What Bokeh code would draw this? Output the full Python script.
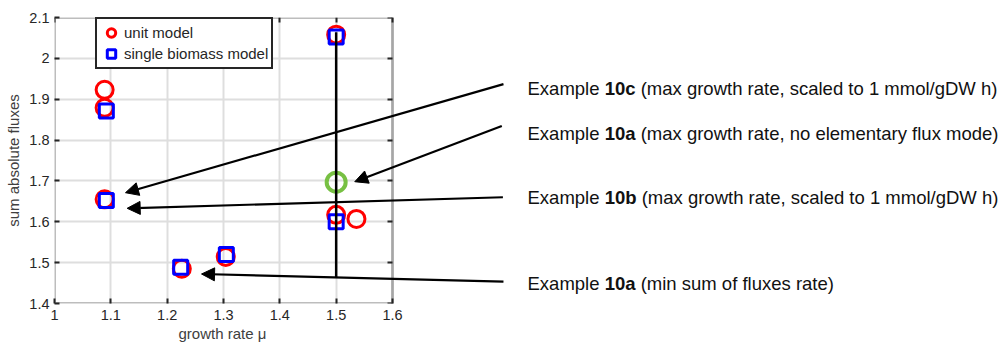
from bokeh.plotting import figure
from bokeh.models import (Range1d, FixedTicker, LinearAxis, Legend, LegendItem,
                          Label, Arrow, NormalHead, BoxAnnotation, Title)
from bokeh.embed import file_html
from bokeh.resources import INLINE

# --- data -------------------------------------------------------------
unit_rate = [1.089, 1.089, 1.089, 1.226, 1.304, 1.500, 1.500, 1.536]
unit_flux = [1.923, 1.879, 1.655, 1.485, 1.514, 2.058, 1.617, 1.607]

single_rate = [1.092, 1.092, 1.224, 1.305, 1.500, 1.500]
single_flux = [1.871, 1.652, 1.489, 1.520, 2.052, 1.600]

efm_rate = [1.500]
efm_flux = [1.697]

# vertical range of solutions at the maximal growth rate
span_rate = [1.500]
span_low = [1.465]
span_high = [2.064]

x_ticks = [1.0, 1.1, 1.2, 1.3, 1.4, 1.5, 1.6]
x_tick_labels = ["1", "1.1", "1.2", "1.3", "1.4", "1.5", "1.6"]
y_ticks = [1.4, 1.5, 1.6, 1.7, 1.8, 1.9, 2.0, 2.1]
y_tick_labels = ["1.4", "1.5", "1.6", "1.7", "1.8", "1.9", "2", "2.1"]

# annotation texts: (plain, bold, rest)
note_plain = ["Example", "Example", "Example", "Example"]
note_bold = ["10c", "10a", "10b", "10a"]
note_rest = ["(max growth rate, scaled to 1 mmol/gDW h)",
             "(max growth rate, no elementary flux mode)",
             "(max growth rate, scaled to 1 mmol/gDW h)",
             "(min sum of fluxes rate)"]
note_y = [1.9267, 1.8166, 1.6600, 1.4495]
# arrows: start next to the text, tip next to the marker
arrow_x0 = [1.797, 1.794, 1.796, 1.797]
arrow_y0 = [1.937, 1.8345, 1.660, 1.4534]
arrow_x1 = [1.126, 1.533, 1.129, 1.261]
arrow_y1 = [1.6712, 1.6981, 1.633, 1.4722]

# --- layout -----------------------------------------------------------
FONT = "Liberation Sans"
DARK = "#262626"
NOTE_SIZE = 18.5

X0, X1 = 1.0, 1.6          # axes box in data units
Y0, Y1 = 1.4, 2.1
BOX_PX = 338               # width of the axes box in pixels
LEFT_PX = 54
FRAME_PX = 1007 - LEFT_PX  # the frame runs to the right edge for the notes
x_end = X0 + (X1 - X0) * FRAME_PX / BOX_PX

p = figure(width=1007, height=347,
           x_range=Range1d(X0, x_end), y_range=Range1d(Y0, Y1),
           output_backend="svg", toolbar_location=None,
           min_border_left=LEFT_PX, min_border_right=0,
           min_border_top=17, min_border_bottom=44,
           y_axis_label="sum absolute fluxes")
p.background_fill_color = "white"
p.border_fill_color = "white"
p.outline_line_color = None

p.xaxis.ticker = FixedTicker(ticks=x_ticks)
p.yaxis.ticker = FixedTicker(ticks=y_ticks)
p.xaxis.bounds = (X0, X1)
p.xaxis.major_label_overrides = dict(zip(x_ticks, x_tick_labels))
p.yaxis.major_label_overrides = dict(zip(y_ticks, y_tick_labels))
p.xgrid.ticker = FixedTicker(ticks=x_ticks)
p.ygrid.ticker = FixedTicker(ticks=y_ticks)
p.xgrid.bounds = (X0, X1)
p.ygrid.cross_bounds = (X0, X1)
p.grid.grid_line_color = "#dedede"
p.grid.grid_line_width = 2

for ax in (p.xaxis[0], p.yaxis[0]):
    ax.axis_line_color = None
    ax.major_tick_in = 5
    ax.major_tick_out = 0
    ax.major_tick_line_color = DARK
    ax.major_tick_line_width = 2
    ax.minor_tick_line_color = None
    ax.major_label_text_font = FONT
    ax.major_label_text_font_size = "14.5px"
    ax.major_label_text_color = DARK
    ax.axis_label_text_font = FONT
    ax.axis_label_text_font_size = "15px"
    ax.axis_label_text_font_style = "normal"
    ax.axis_label_text_color = "#404040"
p.xaxis.major_label_standoff = 6
p.yaxis.major_label_standoff = 5
p.yaxis.axis_label_standoff = 4

# x axis title, centred under the axes box rather than the whole frame
p.add_layout(Title(text="growth rate μ", align="left", offset=124,
                   text_font=FONT, text_font_size="15px",
                   text_font_style="normal", text_color="#404040",
                   standoff=0), "below")

# tick marks on the top and right edges of the box
for side, ticks, loc in (("right", y_ticks, X1), ("above", x_ticks, Y1)):
    ax = LinearAxis(ticker=FixedTicker(ticks=ticks), fixed_location=loc)
    ax.major_label_overrides = {t: "" for t in ticks}
    ax.axis_line_color = None
    ax.major_tick_in = 5
    ax.major_tick_out = 0
    ax.major_tick_line_color = DARK
    ax.major_tick_line_width = 2
    ax.minor_tick_line_color = None
    if side == "above":
        ax.bounds = (X0, X1)
    p.add_layout(ax, side)

# box around the axes
p.add_layout(BoxAnnotation(left=X0, right=X1, bottom=Y0, top=Y1,
                           fill_alpha=0, line_color=DARK, line_width=3))

r_unit = p.scatter(unit_rate, unit_flux, marker="circle", size=17,
                   fill_color=None, line_color="#ff0000", line_width=3)
r_single = p.scatter(single_rate, single_flux, marker="square", size=14,
                     fill_color=None, line_color="#0000ff", line_width=3)
p.scatter(efm_rate, efm_flux, marker="circle", size=19,
          fill_color=None, line_color="#77c043", line_width=4)
p.segment(x0=span_rate, y0=span_low, x1=span_rate, y1=span_high,
          line_color="black", line_width=2.5)

legend = Legend(items=[LegendItem(label="unit model", renderers=[r_unit]),
                       LegendItem(label="single biomass model", renderers=[r_single])],
                location=(41, 234))
legend.border_line_color = DARK
legend.border_line_width = 2.5
legend.border_line_alpha = 1
legend.background_fill_color = "white"
legend.background_fill_alpha = 1
legend.padding = 3
legend.margin = 0
legend.spacing = 0
legend.glyph_width = 22
legend.glyph_height = 21
legend.label_height = 21
legend.label_standoff = 2
legend.label_text_font = FONT
legend.label_text_font_size = "15px"
legend.label_text_color = DARK
p.add_layout(legend)

# annotation arrows and texts to the right of the axes
for x0, y0, x1, y1 in zip(arrow_x0, arrow_y0, arrow_x1, arrow_y1):
    p.add_layout(Arrow(x_start=x0, y_start=y0, x_end=x1, y_end=y1,
                       line_color="black", line_width=2.2,
                       end=NormalHead(size=13, fill_color="black",
                                      line_color="black", line_width=1)))

# advance widths (em) of the Arial-metric glyphs used in the notes
plain_w = 4.168
bold_w = {"10a": 1.668, "10b": 1.723, "10c": 1.668}
space_w = 0.278
note_x = 1.8397
for plain, bold, rest, y in zip(note_plain, note_bold, note_rest, note_y):
    off_b = plain_w * NOTE_SIZE
    off_r = off_b + (bold_w[bold] + space_w) * NOTE_SIZE
    for txt, off, style in ((plain, 0, "normal"), (bold, off_b, "bold"),
                            (rest, off_r, "normal")):
        p.add_layout(Label(x=note_x, y=y, x_offset=off, text=txt,
                           text_font=FONT, text_font_size=f"{NOTE_SIZE}px",
                           text_font_style=style, text_color="#111111",
                           text_baseline="alphabetic", text_align="left"))

open("out.html", "w").write(file_html(p, INLINE))
